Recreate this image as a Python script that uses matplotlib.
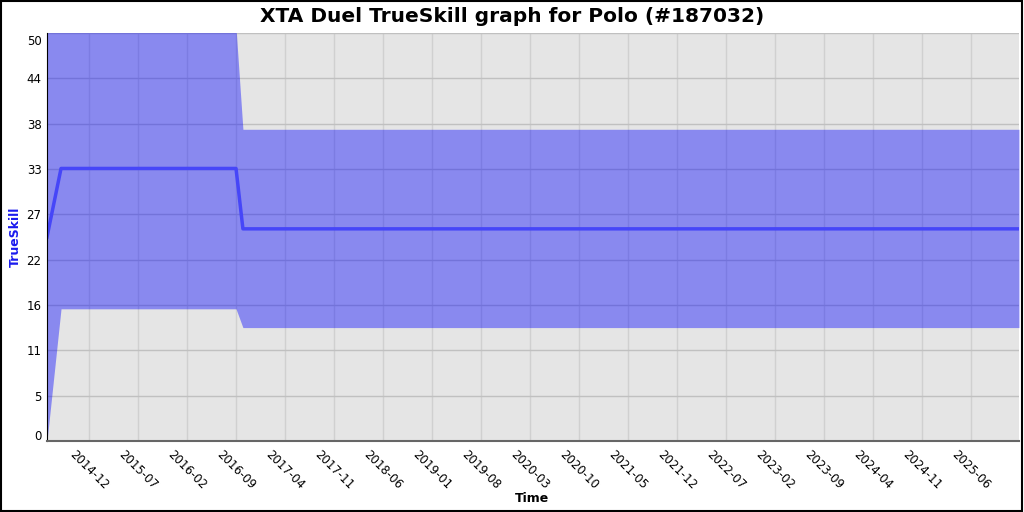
import matplotlib
matplotlib.use('Agg')
import matplotlib.pyplot as plt
import matplotlib.transforms as mtransforms
import numpy as np
from datetime import datetime

# Данные рейтинга
dates = [datetime(2014, 6, 1), datetime(2014, 8, 1), datetime(2016, 8, 31),
         datetime(2016, 9, 30), datetime(2025, 12, 27)]
mu = [25.0, 33.4, 33.4, 26.0, 26.0]
lower = [0.0, 16.2, 16.2, 13.9, 13.9]
upper = [50.0, 50.6, 50.6, 38.2, 38.2]

tick_labels = ['2014-12', '2015-07', '2016-02', '2016-09', '2017-04', '2017-11',
               '2018-06', '2019-01', '2019-08', '2020-03', '2020-10', '2021-05',
               '2021-12', '2022-07', '2023-02', '2023-09', '2024-04', '2024-11',
               '2025-06']
y_ticks = np.linspace(0, 50, 10)

fig = plt.figure(figsize=(10.24, 5.12), dpi=100)
fig.patch.set_facecolor('white')
fig.patches.append(plt.Rectangle((0.001, 0.001), 0.997, 0.997, transform=fig.transFigure,
                                 fill=False, edgecolor='black', linewidth=1.5))

ax = fig.add_axes([47 / 1024, 1 - 441 / 512, 972 / 1024, 408 / 512])
ax.set_facecolor('#e5e5e5')
ax.set_axisbelow(True)

ax.fill_between(dates, lower, upper, color='#0000ff', alpha=0.4, linewidth=0)
ax.plot(dates, mu, color='#4646f8', linewidth=2.5)

ax.set_xlim(dates[0], dates[-1])
ax.set_ylim(0, 50)

ticks = [datetime(int(s[:4]), int(s[5:]), 1) for s in tick_labels]
ax.set_xticks(ticks)
ax.set_xticklabels(tick_labels, rotation=-45, ha='center', va='center', rotation_mode='anchor')
ax.set_yticks(y_ticks)
ax.set_yticklabels([str(int(v)) for v in y_ticks])

ax.grid(True, axis='y', color='#c0c0c0', linewidth=1)
ax.grid(True, axis='x', color='#d0d0d0', linewidth=1)
ax.tick_params(axis='both', labelsize=8.5, length=0, pad=4)
ax.tick_params(axis='x', pad=21)

yl = ax.get_yticklabels()
yl[0].set_va('bottom')
yl[0].set_transform(yl[0].get_transform() +
                    mtransforms.ScaledTranslation(0, -1.5 / 72, fig.dpi_scale_trans))
yl[-1].set_transform(yl[-1].get_transform() +
                     mtransforms.ScaledTranslation(0, -5 / 72, fig.dpi_scale_trans))

for s in ['top', 'right']:
    ax.spines[s].set_visible(False)
ax.spines['left'].set_color('black')
ax.spines['bottom'].set_color('#666666')
ax.spines['bottom'].set_linewidth(1.5)

fig.suptitle('XTA Duel TrueSkill graph for Polo (#187032)', fontsize=14.5, fontweight='bold',
             y=1 - 17 / 512, va='center')
fig.text(532 / 1024, 1 - 499 / 512, 'Time', fontsize=9, fontweight='bold', ha='center', va='center')
fig.text(15 / 1024, 1 - 237 / 512, 'TrueSkill', fontsize=9, fontweight='bold', color='#1a1aee',
         rotation=90, ha='center', va='center')

fig.savefig('out.png', dpi=100)
